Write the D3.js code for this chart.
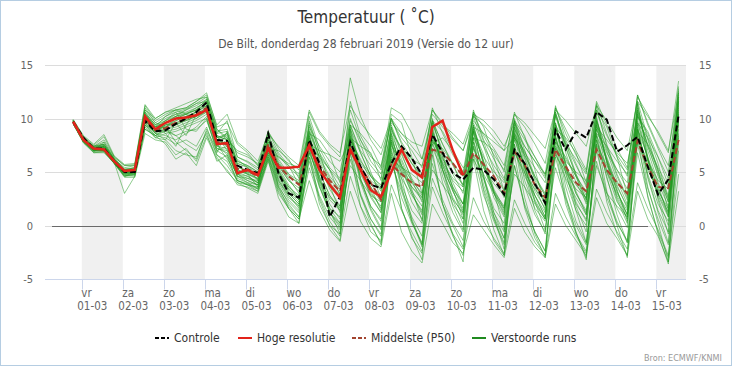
<!DOCTYPE html>
<html>
<head>
<meta charset="utf-8">
<script src="https://d3js.org/d3.v7.min.js"></script>
<style>
body{margin:0;background:#fff;}
text{font-family:"DejaVu Sans Condensed","DejaVu Sans",sans-serif;}
</style>
</head>
<body>
<script>
var w = 732, h = 366

// x-as: dagen en labels
var dayNames = ['vr','za','zo','ma','di','wo','do','vr','za','zo','ma','di','wo','do','vr']
var dayLabels = ['01-03','02-03','03-03','04-03','05-03','06-03','07-03','08-03','09-03','10-03','11-03','12-03','13-03','14-03','15-03']
var yTicks = [-5, 0, 5, 10, 15]

// eerste tijdstap (lokale tijd) en stapgrootte in uren
var firstTime = new Date(2019, 1, 28, 19)
var stepHours = 6

var controle = [9.7,8.2,7.2,7.2,6.0,5.0,5.0, 9.8,8.8,8.9,9.5,10.0,10.6,11.5,
  8.0,7.9,5.6,5.2,4.9,8.6,4.9,3.0,2.6,
  8.0,5.8,0.8,2.7, 7.8,5.5,3.8,3.5, 5.8,7.4,6.3,4.7, 8.5,6.8,4.9,4.3,
  5.4,5.2,4.3,2.9, 7.1,5.8,3.9,2.1, 8.9,7.1,8.8,8.2, 10.6,9.9,6.9,7.5,
  8.3,5.5,2.9,4.3, 10.3]

var hogeResolutie = [9.7,8.0,7.2,7.1,6.0,5.1,5.2, 10.2,9.0,9.6,10.0,10.1,10.3,10.8,
  7.6,7.7,4.9,5.2,4.7,7.2,5.4,5.4,5.5,
  7.5,5.2,3.8,2.6, 7.1,5.2,3.3,2.7, 5.0,7.1,5.2,4.5, 9.2,9.8,7.0,4.7]

var middelste = [9.6,8.0,7.1,7.2,6.0,5.0,5.0, 9.9,8.9,9.1,9.6,10.0,10.4,11.0,
  7.8,7.6,5.3,5.1,4.6,7.6,5.6,4.6,3.8,
  7.4,5.6,4.2,3.2, 7.2,5.4,4.0,2.4, 5.7,4.8,4.0,3.6, 7.1,6.8,5.8,4.6,
  6.8,5.7,4.6,3.0, 6.9,5.7,3.8,2.6, 7.1,5.5,4.0,3.2, 7.1,5.2,4.0,3.0,
  7.9,5.5,3.6,3.5, 8.0]

var verstoord = [
  [9.8,8.1,7.3,7.6,6.2,5.2,5.3, 10.5,9.2,9.6,10.2,10.5,10.8,11.2, 8.2,8.4,5.8,5.5,4.8,7.8,5.6,4.2,3.5, 7.9,5.5,3.8,2.6, 7.5,5.2,3.6,2.2, 6.8,5.0,3.6,2.4, 7.6,5.8,4.2,3.2, 7.2,5.4,3.9,2.8, 6.8,4.9,3.4,2.2, 7.4,5.2,3.8,2.6, 7.6,5.6,4.0,2.9, 8.2,6.0,4.2,3.4, 8.6],
  [9.6,7.9,7.0,7.1,5.9,4.9,5.0, 10.1,9.0,9.8,10.6,10.9,11.4,12.0, 8.8,9.0,6.4,5.9,5.2,8.4,6.6,5.4,4.6, 9.2,7.4,6.0,5.0, 9.8,8.0,6.4,5.6, 9.6,8.6,7.4,6.2, 10.4,9.2,8.0,7.0, 10.2,9.4,8.2,7.0, 10.4,9.6,8.4,7.2, 10.8,9.8,8.6,7.4, 11.2,9.8,8.2,7.0, 11.6,10.2,8.8,7.0, 12.4],
  [9.7,8.0,7.2,7.0,5.8,4.7,4.8, 9.8,8.6,8.4,8.0,8.6,9.2,10.2, 7.2,6.8,4.6,4.0,3.4,6.4,3.8,2.0,0.8, 5.4,2.6,0.4,-1.0, 4.6,1.8,0.0,-1.6, 3.8,1.4,-0.6,-2.4, 3.6,1.2,-0.8,-2.2, 2.6,0.4,-1.2,-2.6, 2.4,0.2,-1.6,-2.8, 3.0,0.8,-1.0,-2.6, 3.4,1.2,-0.6,-2.2, 4.0,1.6,-0.4,-2.8, 4.8],
  [9.5,7.8,6.9,7.4,6.1,5.0,5.2, 10.8,9.6,9.2,7.8,7.0,6.2,9.0, 7.0,7.4,4.4,4.0,3.8,7.6,4.2,2.6,1.8, 8.6,4.6,1.2,0.2, 9.0,4.4,1.6,-0.2, 8.0,4.4,0.6,-1.8, 9.4,5.2,1.8,-0.4, 8.8,4.6,1.2,-1.2, 9.2,5.0,1.4,-0.8, 9.6,5.4,1.8,-0.6, 10.2,5.8,2.4,0.2, 11.4,6.2,2.6,0.0, 12.2],
  [9.9,8.3,7.5,8.3,6.4,5.6,5.6, 11.2,9.8,10.4,10.8,11.0,11.6,12.4, 9.2,9.6,7.6,6.8,5.6,8.8,7.2,6.0,5.2, 10.6,8.6,7.4,6.4, 13.8,10.2,8.0,6.6, 9.8,8.2,7.0,5.4, 10.8,9.4,8.6,7.6, 10.4,9.8,8.8,7.4, 9.6,8.0,6.4,4.6, 9.4,7.6,6.2,4.8, 10.6,8.4,6.6,5.2, 12.2,9.6,7.4,5.6, 11.8],
  [9.6,7.8,6.8,6.9,5.9,3.0,4.6, 9.0,8.4,7.6,6.2,6.8,5.6,8.2, 6.2,5.2,3.8,3.6,3.2,6.2,3.2,1.6,0.6, 6.8,2.4,0.0,-1.4, 7.6,2.8,0.2,-1.8, 7.0,1.6,-1.0,-3.2, 6.6,2.0,-0.8,-3.4, 8.2,3.2,-0.4,-2.8, 7.6,2.6,-0.8,-3.0, 7.8,2.8,-0.6,-3.0, 8.4,3.2,0.0,-3.0, 9.0,3.6,0.2,-3.4, 10.6],
  [9.7,8.0,7.2,7.4,6.0,5.1,5.1, 10.0,8.8,9.4,9.8,10.2,10.6,11.2, 7.8,7.6,5.2,4.9,4.4,7.4,5.0,3.6,2.8, 8.4,5.0,2.8,1.6, 8.8,5.2,2.6,1.2, 8.2,5.4,3.0,1.0, 8.6,5.6,3.2,1.4, 8.8,6.0,3.4,1.6, 8.4,5.4,2.8,0.8, 9.2,5.8,3.0,1.2, 9.4,6.0,3.2,1.0, 9.6,6.2,3.4,1.2, 11.0],
  [9.8,8.2,7.4,7.8,6.3,5.3,5.4, 10.4,9.4,10.0,10.4,10.8,11.2,11.8, 8.6,8.8,6.0,5.6,5.0,8.2,6.0,4.6,4.0, 9.0,6.4,4.6,3.4, 8.2,5.8,4.6,3.8, 7.6,5.6,4.2,3.0, 8.0,6.2,5.0,3.8, 9.6,7.4,5.6,4.2, 8.6,6.8,5.4,4.0, 10.2,7.6,5.6,3.8, 9.8,7.2,5.2,3.4, 10.4,7.6,5.4,3.6, 12.8],
  [9.5,7.7,6.8,6.8,5.8,4.5,4.5, 8.6,8.0,7.8,6.6,7.2,6.0,8.4, 6.4,5.0,4.0,3.5,3.0,6.0,3.0,1.6,0.6, 4.2,1.4,-0.4,-1.5, 3.2,0.4,-1.2,-2.0, 3.0,-0.6,-2.4,-3.5, 2.0,0.2,-1.6,-2.6, 1.0,-0.4,-1.8,-3.0, 1.6,-0.6,-2.0,-3.0, 2.0,0.0,-1.4,-2.8, 2.6,0.2,-1.2,-2.8, 3.2,0.6,-1.0,-3.4, 3.2],
  [9.7,8.1,7.2,7.2,6.0,5.0,5.2, 10.2,9.0,9.2,9.6,10.0,10.4,11.0, 8.0,8.2,5.0,5.0,4.6,7.4,5.2,3.2,2.2, 8.2,4.0,1.6,0.8, 8.4,4.2,1.8,0.6, 7.8,3.8,1.4,0.2, 8.6,4.6,2.0,0.6, 8.8,4.6,1.6,0.2, 8.4,4.2,1.6,0.4, 9.2,4.8,2.0,0.6, 9.4,5.0,2.2,0.8, 9.2,4.8,2.0,0.4, 11.6],
  [9.6,8.0,7.1,7.0,5.9,4.8,4.9, 9.4,8.8,9.0,9.2,9.6,10.0,10.6, 7.4,7.2,4.6,4.4,4.0,7.0,4.4,2.8,1.6, 7.4,3.8,1.2,0.0, 8.0,4.0,1.4,-0.4, 7.2,3.4,0.8,-1.0, 8.0,4.0,1.2,-0.6, 7.8,3.8,0.8,-1.2, 7.6,3.6,1.0,-0.6, 8.4,4.2,1.4,0.0, 8.6,4.4,1.6,-0.2, 9.0,4.6,1.4,-0.6, 10.4],
  [9.8,8.2,7.4,8.0,6.4,5.6,5.7, 11.0,9.6,10.2,10.8,11.0,11.6,12.2, 9.4,10.4,7.8,7.0,6.0,8.6,7.4,6.4,5.6, 10.8,8.8,7.6,6.8, 11.2,9.6,8.4,7.2, 10.0,8.6,7.8,7.4, 10.8,9.6,8.2,7.0, 9.8,8.6,7.2,5.6, 10.4,9.2,7.6,5.8, 11.0,9.0,7.0,5.2, 11.6,9.4,7.2,5.4, 12.0,10.4,8.6,6.8, 13.5],
  [9.6,7.9,7.0,7.2,6.0,4.9,5.0, 9.6,8.4,8.8,9.0,9.4,9.8,10.4, 7.6,6.6,4.8,4.4,4.2,6.8,4.8,3.4,2.4, 6.8,4.6,2.4,1.4, 7.0,4.8,3.0,1.8, 6.4,4.4,2.8,1.4, 7.2,5.2,3.4,2.0, 6.6,4.8,3.0,1.6, 7.0,4.6,2.8,1.2, 6.8,4.4,2.6,1.0, 7.4,5.0,3.0,1.4, 7.8,5.2,3.2,1.6, 9.4],
  [9.7,8.1,7.3,7.5,6.1,5.1,5.2, 10.3,9.0,9.6,10.0,10.4,10.8,11.4, 8.4,8.0,5.4,5.2,4.6,7.8,5.8,4.8,4.2, 9.6,6.8,5.2,4.2, 9.4,7.0,5.6,4.4, 9.0,7.2,5.8,4.6, 9.8,7.6,5.6,3.8, 10.6,7.8,5.2,3.2, 9.4,6.6,4.6,3.0, 10.6,7.2,4.8,2.8, 11.2,7.4,4.6,2.4, 10.8,7.4,4.8,2.6, 12.0],
  [9.5,7.8,7.0,7.0,5.9,4.8,4.8, 9.2,8.2,8.6,8.8,9.2,9.6,10.0, 7.0,6.4,4.2,3.9,3.5,6.6,3.6,2.2,1.2, 6.0,2.8,0.8,-0.4, 6.8,3.0,0.6,-0.8, 6.2,2.6,0.2,-1.6, 5.8,2.4,0.2,-1.4, 6.6,2.8,0.4,-1.8, 5.6,2.0,-0.6,-2.4, 6.4,2.6,0.0,-1.8, 7.0,3.0,0.4,-1.6, 7.6,3.4,0.6,-1.8, 8.4],
  [9.8,8.2,7.4,7.6,6.2,5.2,5.4, 10.6,9.4,9.8,10.4,10.6,11.0,11.6, 8.6,9.8,6.4,6.0,5.4,8.8,6.8,5.6,4.8, 10.2,7.2,5.4,4.4, 10.8,8.0,6.0,4.8, 10.0,7.6,5.8,4.4, 11.0,8.6,6.6,5.0, 10.4,8.4,6.6,5.2, 10.6,8.2,6.4,4.8, 11.0,8.6,6.6,5.0, 11.4,8.6,6.4,4.6, 12.2,9.4,7.2,5.0, 13.0],
  [9.6,7.9,7.1,7.3,6.0,5.0,5.1, 9.9,8.9,9.4,9.6,9.8,10.2,10.8, 7.6,7.8,5.0,4.6,4.0,7.2,4.8,3.0,2.0, 8.0,4.4,2.0,0.6, 9.2,5.4,2.8,1.2, 8.6,4.8,2.2,0.6, 9.0,5.2,2.6,1.0, 9.4,5.6,2.6,0.8, 9.8,5.6,2.4,0.6, 9.6,5.6,2.2,0.4, 10.0,6.0,2.6,0.6, 10.4,6.0,2.8,0.8, 12.6],
  [9.7,8.0,7.2,7.1,5.9,4.9,5.0, 9.8,8.7,9.0,9.4,9.9,10.3,10.9, 7.9,7.4,5.1,4.8,4.3,7.2,5.2,3.6,2.6, 7.6,5.4,3.6,2.6, 7.8,5.6,3.8,2.8, 8.6,6.2,4.0,2.6, 8.2,5.8,3.6,2.0, 7.8,5.4,3.2,1.8, 8.0,5.6,3.2,1.6, 8.2,5.4,3.0,1.4, 8.0,5.2,2.8,1.0, 8.6,5.6,3.0,1.0, 10.2],
  [9.6,7.9,7.0,7.0,5.8,4.6,4.8, 9.4,8.2,8.0,7.0,6.6,6.4,8.8, 6.6,5.6,4.2,3.8,3.6,6.6,4.0,2.4,1.4, 7.8,4.2,1.6,0.2, 8.4,4.4,1.8,0.4, 9.2,5.6,3.2,1.8, 10.0,6.4,3.6,1.6, 9.0,5.8,3.2,1.4, 9.8,6.4,3.8,2.0, 10.4,6.8,4.0,2.2, 9.8,6.2,3.6,1.8, 10.8,7.0,4.0,1.8, 11.2],
  [9.8,8.1,7.3,7.4,6.1,5.1,5.2, 10.4,9.2,9.8,10.2,10.4,10.8,11.4, 8.2,8.6,6.0,5.6,5.0,8.4,6.2,4.8,3.8, 8.8,6.0,4.0,2.8, 9.4,6.8,4.6,3.2, 9.2,6.6,4.4,2.8, 9.6,7.0,4.8,3.0, 10.2,7.4,4.6,2.6, 10.0,7.0,4.2,2.2, 10.6,7.4,4.6,2.4, 10.8,7.6,4.8,2.6, 11.6,8.2,5.2,2.8, 12.0],
  [9.5,7.8,6.9,6.9,5.8,4.6,4.7, 9.0,8.4,8.2,7.6,8.0,7.4,9.2, 6.6,6.0,4.2,3.8,3.4,6.4,3.4,1.8,0.8, 6.4,2.0,0.0,-0.8, 6.8,1.8,-0.6,-1.4, 6.6,1.6,-1.2,-2.6, 7.0,2.0,-1.0,-2.8, 6.2,1.4,-1.4,-2.8, 6.6,1.6,-1.2,-2.8, 7.2,2.0,-0.8,-2.4, 7.6,2.2,-0.8,-2.8, 8.4,2.6,-0.6,-3.0, 9.0],
  [9.7,8.0,7.2,7.3,6.0,5.0,5.1, 10.0,8.9,9.2,9.8,10.2,10.6,11.2, 8.0,7.6,5.2,4.8,4.4,7.4,5.0,3.4,2.4, 8.2,5.0,2.8,1.4, 8.6,5.4,3.2,1.6, 8.4,5.2,3.0,1.2, 9.0,5.6,3.2,1.2, 9.2,5.8,3.0,1.0, 8.8,5.4,2.8,0.8, 9.4,5.8,3.2,1.0, 9.6,6.0,3.2,1.0, 9.8,6.2,3.4,1.2, 11.4],
  [9.9,8.4,7.6,8.5,6.5,5.7,5.8, 11.3,10.0,10.6,10.8,10.4,10.0,10.8, 7.6,6.2,4.8,4.6,4.0,7.0,5.6,4.2,3.2, 9.4,6.2,4.4,3.0, 11.6,8.4,6.6,5.2, 10.0,7.8,6.2,4.8, 8.4,6.4,4.0,2.0, 10.8,8.0,6.2,4.4, 9.2,6.2,3.6,1.4, 11.2,8.0,5.8,3.6, 9.0,6.4,3.8,1.6, 10.6,7.4,4.6,2.2, 10.8],
  [9.6,7.9,7.1,7.1,6.0,4.9,4.9, 9.6,8.6,8.8,8.4,8.8,9.0,9.8, 7.2,7.0,4.6,4.2,3.8,6.8,4.2,2.8,1.8, 7.2,3.6,1.2,-0.2, 6.2,2.8,0.6,-1.0, 7.8,3.6,0.4,-1.8, 4.4,2.0,0.0,-2.0, 7.4,3.4,0.6,-1.6, 5.6,1.8,-0.6,-2.4, 8.2,3.6,0.4,-1.6, 6.0,2.6,0.2,-1.4, 9.4,4.4,1.2,-1.6, 7.6],
  [9.7,8.0,7.1,7.3,6.0,4.6,5.0, 10.0,8.6,8.0,9.6,8.4,10.4,11.0, 8.4,7.0,6.2,5.4,4.2,8.0,6.4,5.6,3.8, 6.8,6.6,5.2,2.8, 8.2,7.4,6.8,4.2, 10.4,9.6,6.4,3.0, 7.6,8.2,7.0,5.4, 6.2,4.4,1.2,-0.6, 9.8,8.4,5.2,1.8, 6.6,5.0,3.4,2.6, 10.8,9.2,6.4,2.8, 8.8,7.6,5.2,1.4, 8.2],
  [9.6,7.9,7.0,7.8,6.2,5.2,5.4, 10.6,9.4,8.6,7.4,9.4,10.8,11.8, 9.0,8.2,6.8,6.4,5.8,7.2,7.0,6.2,4.4, 8.6,8.0,6.6,4.0, 9.4,8.6,7.4,5.4, 11.0,10.4,8.6,6.2, 9.8,8.8,7.0,4.6, 10.6,9.2,6.4,3.2, 8.2,7.0,4.6,2.8, 9.0,8.2,6.8,4.0, 8.4,6.2,3.4,0.4, 10.2,8.6,5.8,2.4, 9.8],
  [9.7,8.0,7.2,7.0,5.8,4.8,4.9, 9.6,9.2,10.2,10.6,9.0,8.8,10.0, 6.8,8.8,5.6,4.8,3.6,7.6,3.6,1.6,0.2, 9.8,6.8,3.8,1.2, 5.6,4.2,2.8,2.2, 7.4,6.0,3.4,0.4, 5.2,3.8,2.4,1.2, 9.0,6.6,3.2,-0.4, 4.8,3.6,2.0,0.6, 8.4,5.0,1.4,-1.6, 5.6,3.0,1.8,0.8, 11.4,6.4,2.4,-0.8, 10.2],
  [9.8,8.1,7.4,7.6,6.2,5.4,5.6, 10.8,10.0,10.6,11.0,11.4,11.8,12.0, 9.0,8.0,7.0,6.6,5.6,7.0,6.4,5.8,5.4, 7.6,7.0,6.6,6.0, 8.0,6.2,4.2,3.4, 6.2,5.4,4.8,4.0, 7.8,7.2,5.8,3.6, 9.2,8.6,7.8,7.0, 8.2,6.6,4.4,2.8, 7.2,6.0,5.0,4.2, 8.6,7.4,6.0,4.8, 9.6,8.2,6.4,3.8, 10.4],
  [9.5,7.8,7.0,7.0,5.9,4.7,4.6, 9.4,8.4,9.0,8.4,7.6,7.0,8.6, 6.0,6.6,4.0,3.8,3.2,6.2,2.6,0.8,0.2, 6.4,3.6,1.4,-0.8, 7.2,5.2,3.6,1.4, 5.8,3.2,0.4,-2.0, 9.6,6.8,3.4,0.6, 7.4,4.4,0.8,-2.2, 8.6,5.4,2.2,-0.4, 5.4,2.4,-0.6,-3.2, 8.0,4.6,1.0,-1.6, 6.8,2.8,-0.8,-3.6, 7.0],
  [9.7,8.0,7.2,7.5,6.1,5.2,5.2, 10.4,9.2,9.6,10.2,10.8,11.4,11.6, 8.4,8.0,5.8,5.4,4.6,8.2,5.4,3.8,2.4, 8.8,6.4,5.2,3.6, 10.0,7.6,5.0,2.6, 8.8,7.2,6.2,5.6, 8.6,6.0,4.4,3.6, 8.2,7.8,7.0,5.0, 9.6,7.4,6.0,4.8, 7.8,6.4,4.6,2.0, 9.2,8.0,6.8,5.8, 10.2,8.8,6.4,4.4, 11.6],
  [9.6,7.9,7.1,7.2,6.0,4.9,5.1, 10.0,9.0,9.4,9.4,9.8,10.2,10.6, 7.4,8.0,4.8,4.2,3.8,7.0,4.6,3.0,2.0, 7.0,4.2,2.6,1.8, 9.0,6.8,4.6,3.4, 8.0,5.6,3.6,2.6, 8.8,5.2,2.4,0.2, 8.2,6.4,5.0,4.0, 7.2,5.0,2.2,0.6, 8.8,6.2,4.6,3.2, 9.8,7.0,4.2,2.0, 9.0,6.4,3.8,0.8, 9.8],
  [9.8,8.2,7.3,7.4,6.2,5.0,5.3, 10.2,9.0,9.2,10.0,10.4,11.0,11.6, 8.0,8.6,5.6,5.0,4.8,8.0,5.8,4.4,3.0, 8.4,5.6,3.4,1.8, 8.2,6.0,4.8,3.6, 9.4,6.8,4.2,2.2, 9.8,7.6,5.8,4.6, 9.4,6.0,3.0,1.2, 9.0,7.4,6.0,4.4, 10.4,7.8,4.8,2.4, 9.0,6.8,5.2,4.0, 11.0,8.0,5.0,2.2, 12.4]
]

var x = d3.scaleTime()
  .domain([new Date(2019, 1, 28, 2, 30), new Date(2019, 2, 15, 17, 20)])
  .range([45, 686])
var y = d3.scaleLinear().domain([-5, 15]).range([279, 65])

function tijd(i){ return d3.timeHour.offset(firstTime, i*stepHours) }
var lineFunction = d3.line()
  .x(function(d, i){ return x(tijd(i)) })
  .y(function(d){ return y(d) })

var svg = d3.select('body').append('svg').attr('width', w).attr('height', h)

svg.append('rect').attr('x', 0.5).attr('y', 0.5).attr('width', w - 1).attr('height', h - 1)
  .attr('fill', '#fff').attr('stroke', '#b5cde2')

// grijze banden om de dag
var days = dayLabels.map(function(d, i){ return new Date(2019, 2, 1 + i) })
svg.selectAll('rect.band')
  .data(days.filter(function(d, i){ return i % 2 === 0 }))
  .enter().append('rect')
  .attr('class', 'band')
  .attr('x', function(d){ return x(d) })
  .attr('width', function(d){ return Math.min(x(d3.timeDay.offset(d, 1)), x.range()[1]) - x(d) })
  .attr('y', y(15)).attr('height', y(-5) - y(15))
  .attr('fill', '#f0f0f0')

// rasterlijnen
svg.selectAll('line.grid')
  .data(yTicks.filter(function(d){ return d !== -5 }))
  .enter().append('line')
  .attr('x1', x.range()[0]).attr('x2', x.range()[1])
  .attr('y1', function(d){ return Math.round(y(d)) + 0.5 })
  .attr('y2', function(d){ return Math.round(y(d)) + 0.5 })
  .attr('stroke', '#dcdcdc')

// nullijn
svg.append('line')
  .attr('x1', 52).attr('x2', 648)
  .attr('y1', Math.round(y(0)) + 0.5).attr('y2', Math.round(y(0)) + 0.5)
  .attr('stroke', '#6a6a6a').attr('stroke-width', 1)

// x-as
var axisY = Math.round(y(-5)) + 0.5
svg.append('line').attr('x1', x.range()[0]).attr('x2', x.range()[1])
  .attr('y1', axisY).attr('y2', axisY).attr('stroke', '#ccd6eb')
svg.selectAll('line.tick').data(days).enter().append('line')
  .attr('x1', function(d){ return Math.round(x(d)) + 0.5 })
  .attr('x2', function(d){ return Math.round(x(d)) + 0.5 })
  .attr('y1', axisY).attr('y2', axisY + 10)
  .attr('stroke', '#ccd6eb')
svg.selectAll('text.dname').data(days).enter().append('text')
  .text(function(d, i){ return dayNames[i] })
  .attr('x', function(d){ return x(d) - 0.5 }).attr('y', 297)
  .attr('font-size', '11.5px').attr('fill', '#666')
svg.selectAll('text.dlabel').data(days).enter().append('text')
  .text(function(d, i){ return dayLabels[i] })
  .attr('x', function(d){ return x(d) - 4.5 }).attr('y', 310)
  .attr('font-size', '11.5px').attr('fill', '#666')

// y-labels links en rechts
svg.selectAll('text.yl').data(yTicks).enter().append('text')
  .text(function(d){ return d })
  .attr('x', 33).attr('y', function(d){ return y(d) + 4 })
  .attr('text-anchor', 'end').attr('font-size', '11px').attr('fill', '#666')
svg.selectAll('text.yr').data(yTicks).enter().append('text')
  .text(function(d){ return d })
  .attr('x', 699).attr('y', function(d){ return y(d) + 4 })
  .attr('text-anchor', 'start').attr('font-size', '11px').attr('fill', '#666')

// verstoorde runs
svg.append('g').selectAll('path').data(verstoord).enter().append('path')
  .attr('d', lineFunction)
  .attr('fill', 'none').attr('stroke', '#1f9a1f')
  .attr('stroke-opacity', 0.5).attr('stroke-width', 1)

svg.append('path').attr('d', lineFunction(middelste))
  .attr('fill', 'none').attr('stroke', '#a3442f').attr('stroke-width', 2)
  .attr('stroke-dasharray', '6,3')
svg.append('path').attr('d', lineFunction(controle))
  .attr('fill', 'none').attr('stroke', '#000').attr('stroke-width', 2)
  .attr('stroke-dasharray', '6,3')
svg.append('path').attr('d', lineFunction(hogeResolutie))
  .attr('fill', 'none').attr('stroke', '#e2231a').attr('stroke-width', 2.5)

// titels
svg.append('text').text('Temperatuur ( ˚C)')
  .attr('x', 366).attr('y', 23).attr('text-anchor', 'middle')
  .attr('font-size', '17px').attr('fill', '#333')
svg.append('text').text('De Bilt, donderdag 28 februari 2019 (Versie do 12 uur)')
  .attr('x', 366).attr('y', 48).attr('text-anchor', 'middle')
  .attr('font-size', '12px').attr('fill', '#555')

// legenda
var legend = [
  {name: 'Controle', color: '#000', dash: '4,2', x: 155},
  {name: 'Hoge resolutie', color: '#e2231a', dash: null, x: 238},
  {name: 'Middelste (P50)', color: '#a3442f', dash: '4,2', x: 352},
  {name: 'Verstoorde runs', color: '#1f8a1f', dash: null, x: 472}
]
var lg = svg.selectAll('g.legend').data(legend).enter().append('g')
lg.append('line')
  .attr('x1', function(d){ return d.x }).attr('x2', function(d){ return d.x + 14 })
  .attr('y1', 338).attr('y2', 338)
  .attr('stroke', function(d){ return d.color }).attr('stroke-width', 2)
  .attr('stroke-dasharray', function(d){ return d.dash })
lg.append('text').text(function(d){ return d.name })
  .attr('x', function(d){ return d.x + 19 }).attr('y', 342)
  .attr('font-size', '12px').attr('fill', '#333')

svg.append('text').text('Bron: ECMWF/KNMI')
  .attr('x', 722).attr('y', 361).attr('text-anchor', 'end')
  .attr('font-size', '9px').attr('fill', '#999')
</script>
</body>
</html>
